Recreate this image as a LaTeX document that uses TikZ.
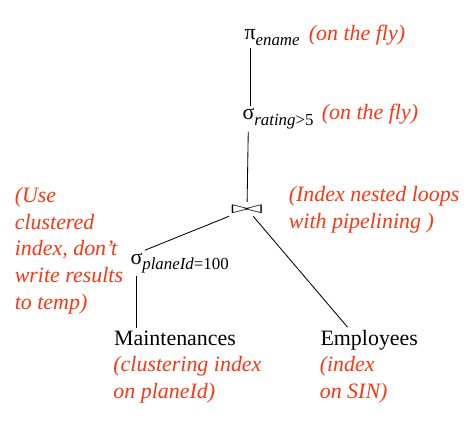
\documentclass[tikz,border=0pt]{standalone}
\usepackage{fontspec}
\setmainfont{Liberation Serif}
\usepackage{amssymb}
\usepackage{graphicx}
\usetikzlibrary{shapes}
\definecolor{notered}{RGB}{250,55,20}
\newcommand{\bigfont}{\fontsize{15.6}{18.9}\selectfont}
\newcommand{\subs}[1]{\raisebox{-4pt}{\fontsize{12}{14}\selectfont #1}}
\tikzstyle{rel} = [font=\bigfont, inner sep=1.5pt, anchor=base west]
\tikzstyle{note} = [font=\bigfont\itshape, text=notered, align=left, inner sep=1pt, anchor=base west]

\begin{document}
\begin{tikzpicture}[line width=0.6pt]
	\useasboundingbox (0,0) rectangle (11.7,10.675);
	\node[rel] (pi) at (6.05,9.675) {π\rlap{\subs{\itshape ename}}};
	\node[note] (piNote) at (7.675,9.65) {(on the fly)};
	\node[rel] (sel) at (6.0,7.675) {σ\rlap{\subs{\itshape rating\upshape >5}}};
	\node[note] (selNote) at (8.0,7.675) {(on the fly)};
	\node[font=\bigfont,inner sep=2pt] (join) at (6.175,5.45) {\scalebox{1.95}[0.85]{$\bowtie$}};
	% multi-line notes sit on the baseline of their last line
	\node[note] (joinNote) at (7.175,4.975) {(Index nested loops\\with pipelining )};
	\node[rel] (selp) at (3.2,4.075) {σ\rlap{\subs{\itshape planeId\upshape =100}}};
	\node[note] (selpNote) at (0.325,2.95) {(Use\\clustered\\index, don’t\\write results\\to temp)};
	\node[rel] (maint) at (2.79,2.05) {Maintenances};
	\node[note] (maintNote) at (2.79,0.725) {(clustering index\\on planeId)};
	\node[rel] (emp) at (7.95,2.05) {Employees};
	\node[note] (empNote) at (7.95,0.725) {(index\\on SIN)};
	\draw (pi) -- (pi |- sel.north);
	\draw (sel) -- (join);
	\draw (join) -- (selp.north east);
	\draw (join) -- (emp.150);
	\draw (selp) -- (selp |- maint.north);
\end{tikzpicture}
\end{document}
